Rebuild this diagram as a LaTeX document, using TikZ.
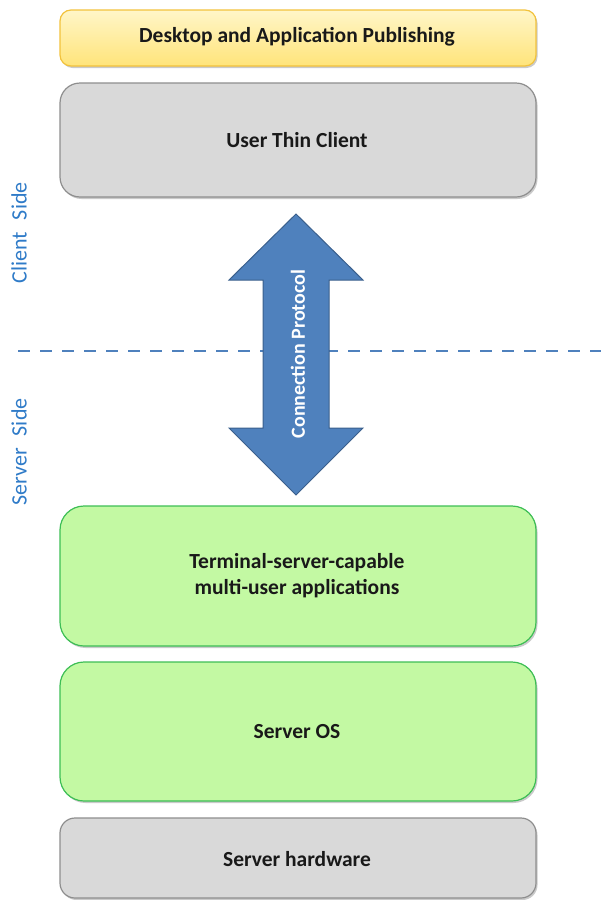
\documentclass[tikz,border=0pt]{standalone}
\usepackage{fontspec}
\setmainfont{Carlito}
\usetikzlibrary{shadows}
\definecolor{pubtop}{HTML}{FFF6C8}
\definecolor{pubbot}{HTML}{FFE47A}
\definecolor{publine}{HTML}{F2C23C}
\definecolor{grayfill}{HTML}{D9D9D9}
\definecolor{grayline}{HTML}{8E8E8E}
\definecolor{greenfill}{HTML}{C3F9A3}
\definecolor{greenline}{HTML}{3DBE55}
\definecolor{arrowfill}{HTML}{4F81BD}
\definecolor{arrowline}{HTML}{3A5F8C}
\definecolor{sidetext}{HTML}{2F7BC8}
\begin{document}
\begin{tikzpicture}[x=1pt,y=-1pt,
  layer/.style={draw, line width=1.2pt,
    drop shadow={shadow xshift=1.5pt, shadow yshift=-2pt, opacity=0.35, fill=black!60}},
  pubbox/.style={layer, draw=publine, top color=pubtop, bottom color=pubbot},
  graybox/.style={layer, draw=grayline, fill=grayfill},
  greenbox/.style={layer, draw=greenline, fill=greenfill},
  layertext/.style={font=\bfseries\fontsize{21.5}{26}\selectfont, align=center, text=black!90},
  sidelabel/.style={text=sidetext, font=\fontsize{22}{26}\selectfont, rotate=90},
  divider/.style={draw=arrowfill, line width=2pt, dash pattern=on 12pt off 10pt}
]
\useasboundingbox (0,0) rectangle (601,900);

% stack of layers
\path[pubbox, rounded corners=11pt] (60,10) rectangle (536,66);
\node[layertext] (pub) at (297,37) {Desktop and Application Publishing};
\path[graybox, rounded corners=20pt] (60,83) rectangle (536,197);
\node[layertext] (client) at (297,140) {User Thin Client};
\path[greenbox, rounded corners=24pt] (60,506) rectangle (536,646);
\node[layertext] (apps) at (297,576) {Terminal-server-capable\\multi-user applications};
\path[greenbox, rounded corners=24pt] (60,662) rectangle (536,801);
\node[layertext] (os) at (297,732) {Server OS};
\path[graybox, rounded corners=15pt] (60,818) rectangle (536,898);
\node[layertext] (hw) at (297,859) {Server hardware};

% client / server divider
\coordinate (divL) at (18,351);
\coordinate (divR) at (601,351);
\draw[divider] (divL) -- (divR);
\node[sidelabel] (clientside) at (19,233) {Client\hspace{0.55em}Side};
\node[sidelabel] (serverside) at (19,452) {Server\hspace{0.55em}Side};

% connection protocol double arrow
\filldraw[fill=arrowfill, draw=arrowline, line width=1pt, line join=miter]
  (296,214) -- (363,280) -- (329,280) -- (329,428) -- (363,428) -- (296,495)
  -- (229,428) -- (263,428) -- (263,280) -- (229,280) -- cycle;
\node[text=white, font=\bfseries\fontsize{20}{24}\selectfont, rotate=90] (proto) at (298,354) {Connection Protocol};
\end{tikzpicture}
\end{document}
